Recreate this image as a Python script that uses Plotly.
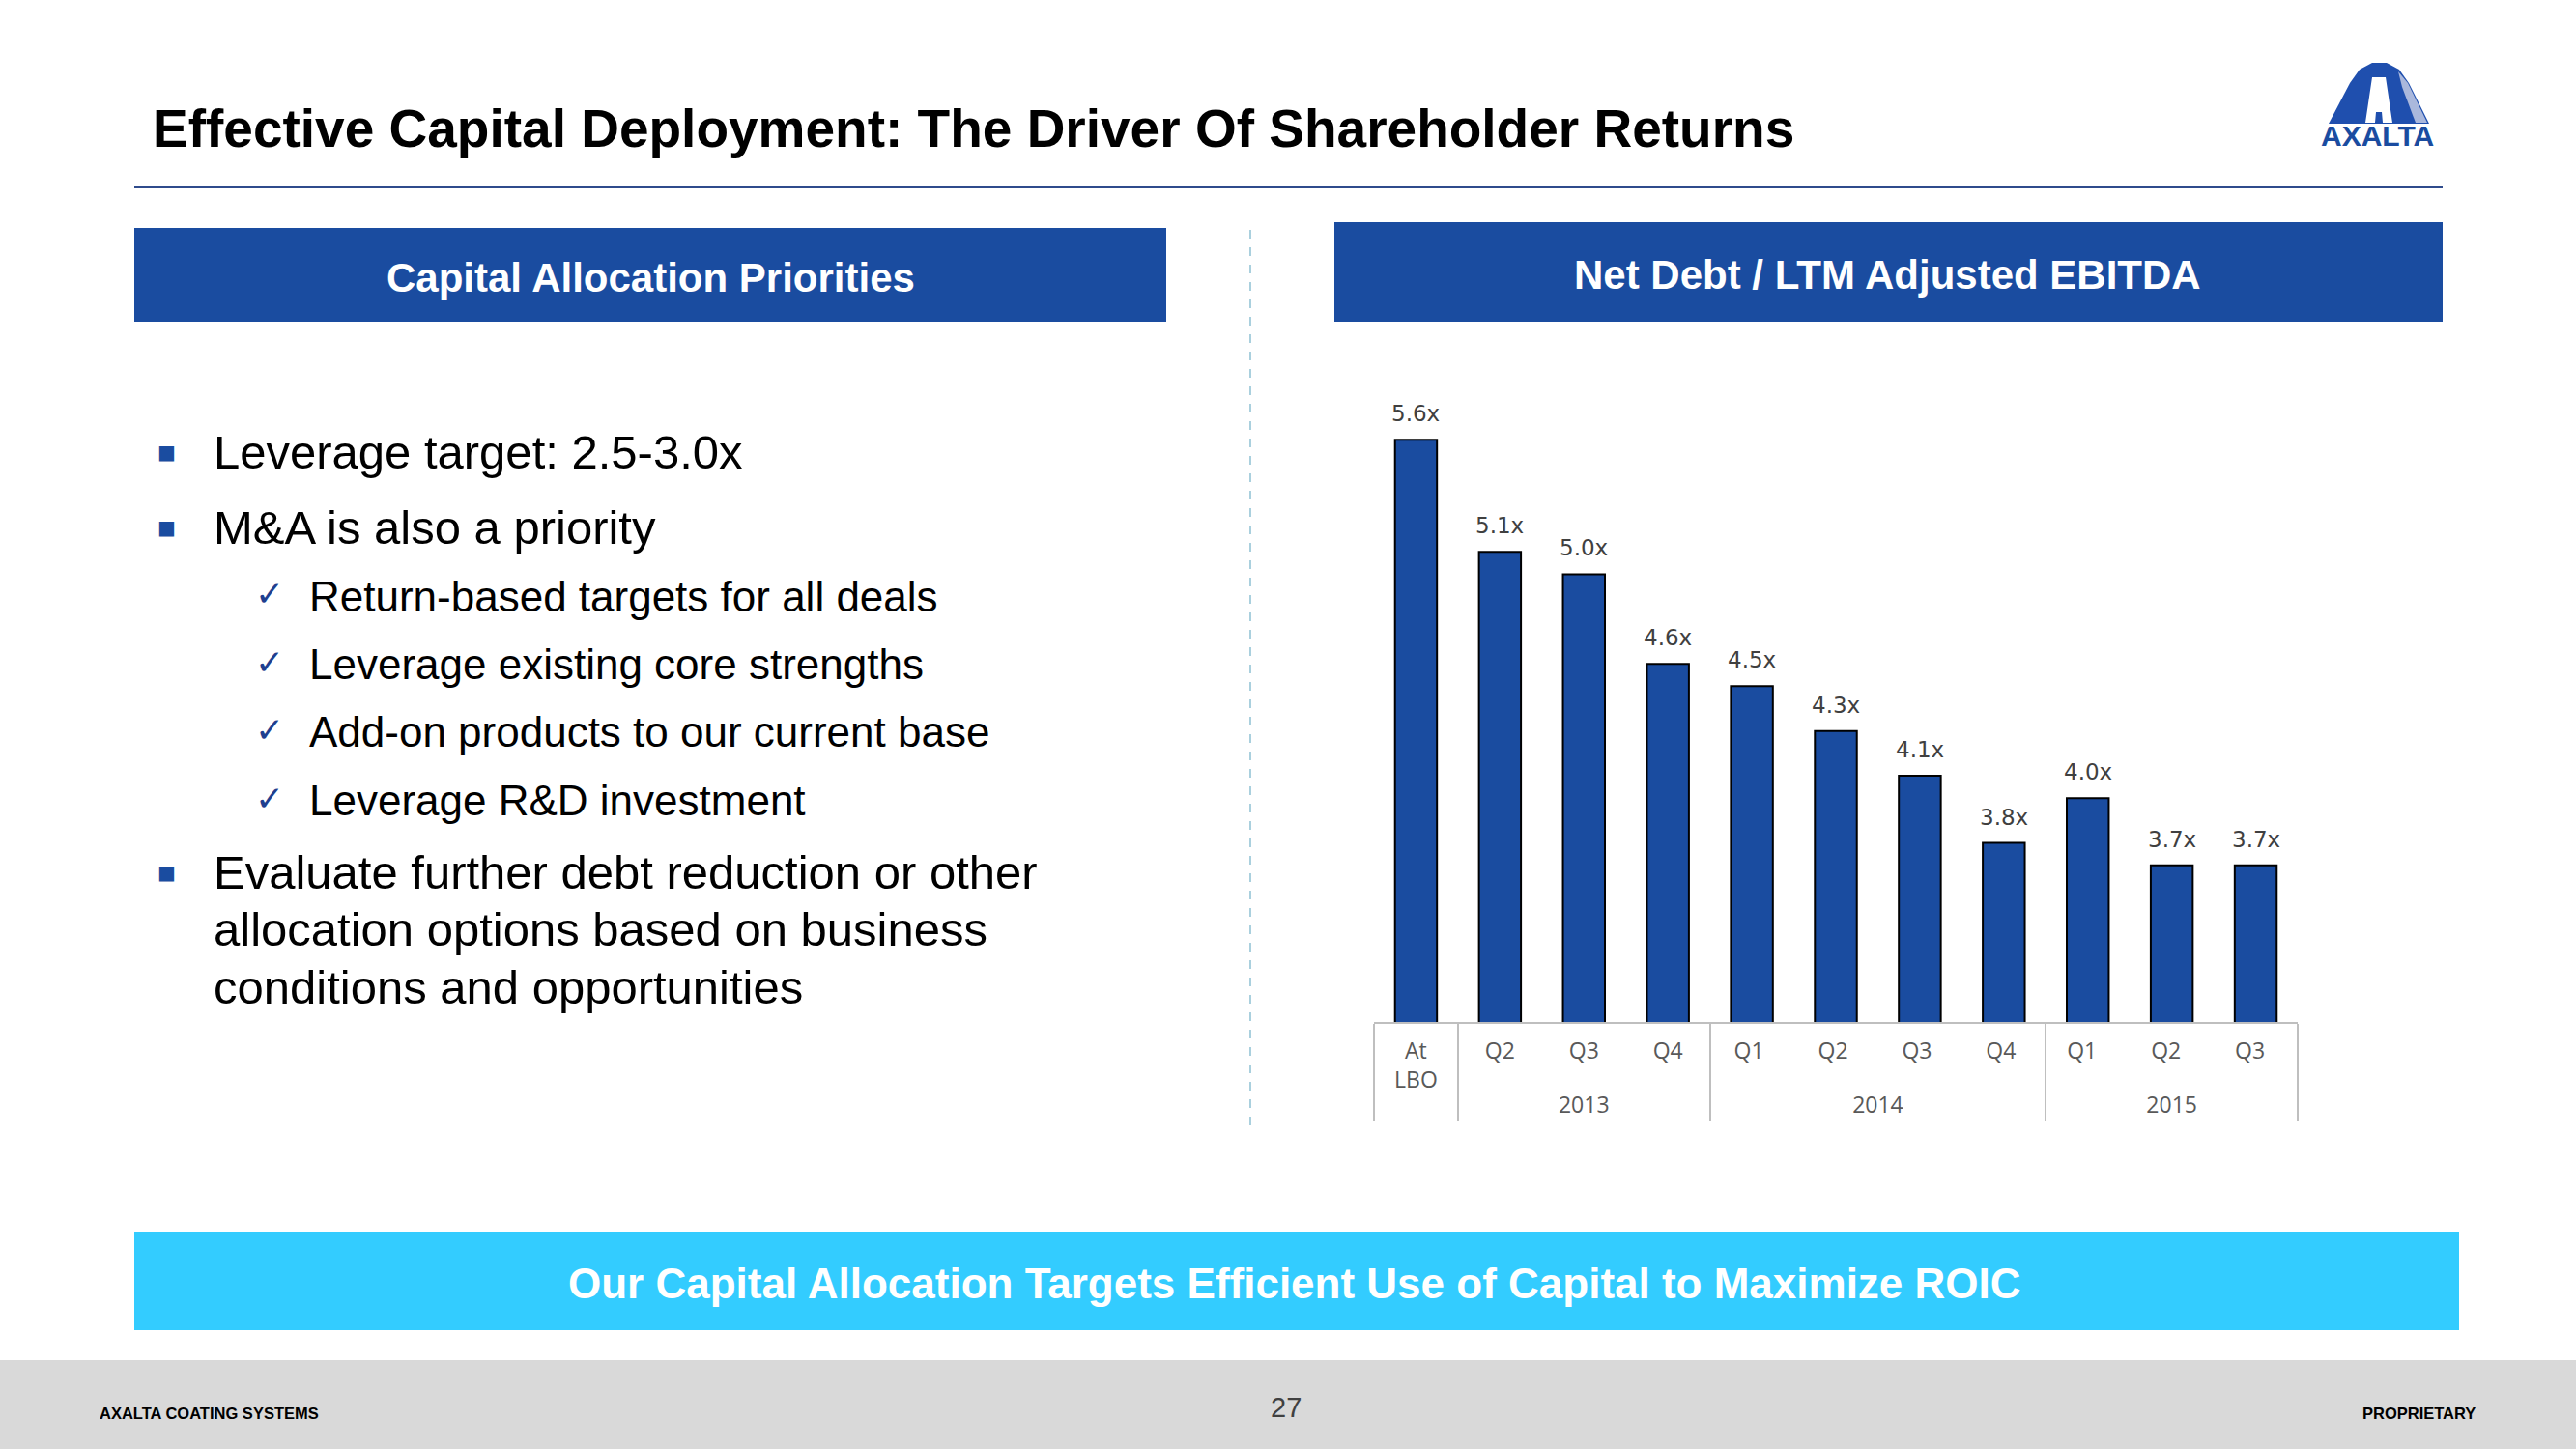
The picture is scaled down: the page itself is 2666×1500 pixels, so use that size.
import plotly.graph_objects as go

W, H = 2666, 1500

# ---- data ----
# quarter labels per year (SVG drops trailing spaces; they keep each year's quarters distinct
# so plotly's multicategory ordering keeps the chronological order)
quarters = ["At<br>LBO", "Q2", "Q3", "Q4", "Q1 ", "Q2 ", "Q3 ", "Q4 ", "Q1  ", "Q2  ", "Q3  "]
years = [" ", "2013", "2013", "2013", "2014", "2014", "2014", "2014", "2015", "2015", "2015"]
leverage = [5.6, 5.1, 5.0, 4.6, 4.5, 4.3, 4.1, 3.8, 4.0, 3.7, 3.7]

title_text = "Effective Capital Deployment: The Driver Of Shareholder Returns"
left_header = "Capital Allocation Priorities"
right_header = "Net Debt / LTM Adjusted EBITDA"
main_bullets = ["Leverage target: 2.5-3.0x", "M&A is also a priority"]
sub_bullets = ["Return-based targets for all deals", "Leverage existing core strengths",
               "Add-on products to our current base", "Leverage R&D investment"]
last_bullet = ["Evaluate further debt reduction or other",
               "allocation options based on business",
               "conditions and opportunities"]
banner_text = "Our Capital Allocation Targets Efficient Use of Capital to Maximize ROIC"

BLUE = "#1a4ca0"
CYAN = "#33ccff"


def X(px):
    return px / W


def Y(py):
    return 1 - py / H


fig = go.Figure()
fig.add_trace(go.Bar(
    x=[years, quarters], y=leverage, width=0.5,
    marker=dict(color=BLUE, line=dict(color="black", width=2)),
    hoverinfo="skip", showlegend=False,
))

annotations = []
# data labels
for i, v in enumerate(leverage):
    annotations.append(dict(x=i, y=v, xref="x", yref="y", text=f"{v:.1f}x", showarrow=False,
                            yanchor="bottom", yshift=12,
                            font=dict(family="DejaVu Sans", size=23, color="#404040")))


def ann(x, y, text, size, color="black", bold=False, xanchor="left", family="Liberation Sans"):
    annotations.append(dict(x=X(x), y=Y(y), xref="paper", yref="paper", text=text, showarrow=False,
                            xanchor=xanchor, yanchor="middle",
                            font=dict(family=family, size=size, color=color,
                                      weight="bold" if bold else "normal")))


ann(156, 133, title_text, 55, bold=True)
ann(673, 287, left_header, 42, color="white", bold=True, xanchor="center")
ann(1953, 284, right_header, 42, color="white", bold=True, xanchor="center")

main_y = [468, 546]
for t, yy in zip(main_bullets, main_y):
    ann(172, yy, "■", 20, color=BLUE, xanchor="center", family="DejaVu Sans")
    ann(219, yy, t, 49)
sub_y = [617, 687, 757, 828]
for t, yy in zip(sub_bullets, sub_y):
    ann(279, yy - 2, "✓", 36, color="#1f3f8f", xanchor="center", family="DejaVu Sans")
    ann(318, yy, t, 44)
last_y = [903, 962, 1022]
ann(172, last_y[0], "■", 20, color=BLUE, xanchor="center", family="DejaVu Sans")
for t, yy in zip(last_bullet, last_y):
    ann(219, yy, t, 49)

ann(1340, 1328, banner_text, 44, color="white", bold=True, xanchor="center")
ann(101, 1463, "AXALTA COATING SYSTEMS", 16.5, bold=True)
ann(1331, 1457, "27", 29, color="#404040", xanchor="center", family="Liberation Sans")
ann(2564, 1463, "PROPRIETARY", 16.5, bold=True, xanchor="right")
ann(2460, 140, "AXALTA", 30, color=BLUE, bold=True, xanchor="center")


def path(points):
    return "M " + " L ".join(f"{X(px):.5f},{Y(py):.5f}" for px, py in points) + " Z"


shapes = [
    dict(type="line", xref="paper", yref="paper", x0=X(139), x1=X(2528), y0=Y(194), y1=Y(194),
         line=dict(color="#2f4b8c", width=2)),
    dict(type="rect", xref="paper", yref="paper", x0=X(139), x1=X(1207), y0=Y(236), y1=Y(333),
         fillcolor=BLUE, line=dict(width=0), layer="below"),
    dict(type="rect", xref="paper", yref="paper", x0=X(1381), x1=X(2528), y0=Y(230), y1=Y(333),
         fillcolor=BLUE, line=dict(width=0), layer="below"),
    dict(type="line", xref="paper", yref="paper", x0=X(1294), x1=X(1294), y0=Y(238), y1=Y(1170),
         line=dict(color="#8fc1d4", width=1.5, dash="dash")),
    dict(type="rect", xref="paper", yref="paper", x0=X(139), x1=X(2545), y0=Y(1275), y1=Y(1377),
         fillcolor=CYAN, line=dict(width=0), layer="below"),
    dict(type="rect", xref="paper", yref="paper", x0=0, x1=1, y0=0, y1=Y(1408),
         fillcolor="#d9d9d9", line=dict(width=0), layer="below"),
    # logo arch
    dict(type="path", xref="paper", yref="paper",
         path=path([(2410, 128), (2432, 86), (2442, 72), (2455, 65), (2470, 65), (2483, 72),
                    (2493, 86), (2514, 128)]),
         fillcolor="#1f4fae", line=dict(width=0)),
    dict(type="path", xref="paper", yref="paper",
         path=path([(2482, 74), (2492, 86), (2512, 127), (2500, 127), (2486, 90)]),
         fillcolor="#aab8dc", line=dict(width=0)),
    dict(type="path", xref="paper", yref="paper",
         path=path([(2455, 80), (2469, 80), (2476, 127), (2466, 127), (2465, 116),
                    (2459, 116), (2458, 127), (2448, 127)]),
         fillcolor="white", line=dict(width=0)),
]

fig.update_layout(
    width=W, height=H,
    margin=dict(l=0, r=0, t=0, b=0),
    paper_bgcolor="white", plot_bgcolor="rgba(0,0,0,0)",
    xaxis=dict(domain=[X(1422), X(2378)], type="multicategory",
               showline=True, linecolor="#bfbfbf", linewidth=2,
               showdividers=True, dividercolor="#bfbfbf", dividerwidth=2,
               ticks="", showgrid=False, ticklabelstandoff=8,
               tickfont=dict(family="Open Sans", size=23, color="#595959")),
    yaxis=dict(domain=[Y(1058), Y(409)], range=[3.0, 5.8], visible=False),
    annotations=annotations,
    shapes=shapes,
    bargap=0.5,
)

fig.write_html("out.html", config={"displayModeBar": False},
               post_script="document.body.style.margin='0px';")
